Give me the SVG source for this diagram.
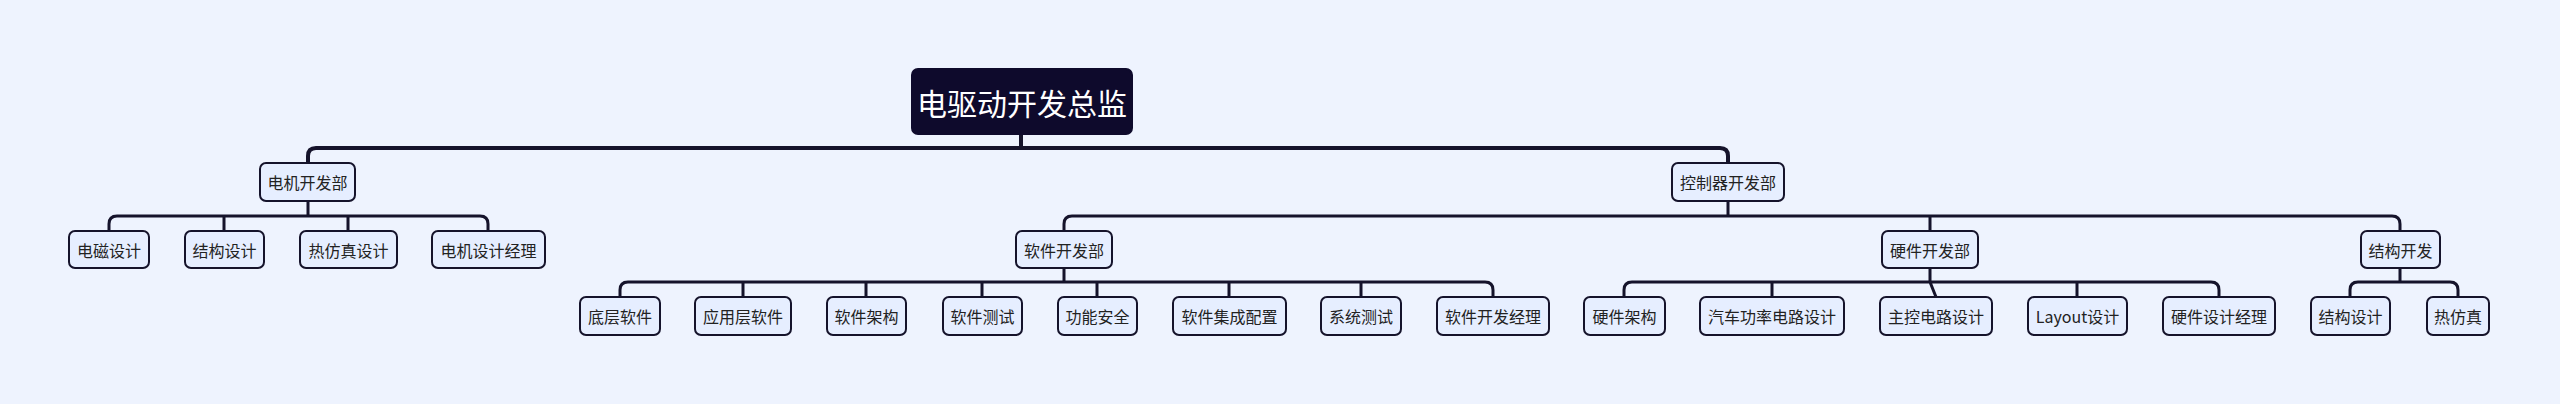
<svg xmlns="http://www.w3.org/2000/svg" width="2560" height="404" viewBox="0 0 2560 404">
<style>
.bg{fill:#eef3fe}
.n rect{fill:#e6eeff;stroke:#15132b;stroke-width:2}
.n text{font-family:"Noto Sans CJK SC","Noto Sans",sans-serif;font-size:16px;fill:#222;text-anchor:middle;dominant-baseline:central}
.root rect{fill:#0e0a2c;stroke:#0e0a2c}
.root text{fill:#fff;font-size:30px}
.c path{fill:none;stroke:#15132b;stroke-width:3}
.c .m{stroke-width:4}
</style>
<rect class="bg" width="2560" height="404"/>
<g class="c">
<path class="m" d="M1021,134V148M308,163V156Q308,148 316,148H1720Q1728,148 1728,156V163"/>
<path d="M308,201V216M109,231V224Q109,216 117,216H480Q488,216 488,224V231M224,216V231M348,216V231"/>
<path d="M1728,201V216M1064,231V224Q1064,216 1072,216H2392Q2400,216 2400,224V231M1930,216V231"/>
<path d="M1064,268V282M620,297V290Q620,282 628,282H1485Q1493,282 1493,290V297M743,282V297M866,282V297M982,282V297M1097,282V297M1229,282V297M1361,282V297"/>
<path d="M1930,268V282M1624,297V290Q1624,282 1632,282H2211Q2219,282 2219,290V297M1772,282V297M1930,282L1936,297M2077,282V297"/>
<path d="M2400,268V282M2350,297V290Q2350,282 2358,282H2450Q2458,282 2458,290V297"/>
</g>
<g id="root" class="n root"><rect x="912" y="69" width="220" height="65" rx="6"/><text x="1022" y="102">电驱动开发总监</text></g>
<g id="motor" class="n"><rect x="260" y="163" width="95" height="38" rx="6"/><text x="307.5" y="182">电机开发部</text></g>
<g id="ctrl" class="n"><rect x="1672" y="163" width="112" height="38" rx="6"/><text x="1728" y="182">控制器开发部</text></g>
<g id="em" class="n"><rect x="69" y="231" width="80" height="37" rx="6"/><text x="109" y="249.5">电磁设计</text></g>
<g id="struct1" class="n"><rect x="185" y="231" width="79" height="37" rx="6"/><text x="224.5" y="249.5">结构设计</text></g>
<g id="thermal1" class="n"><rect x="300" y="231" width="97" height="37" rx="6"/><text x="348.5" y="249.5">热仿真设计</text></g>
<g id="motormgr" class="n"><rect x="432" y="231" width="113" height="37" rx="6"/><text x="488.5" y="249.5">电机设计经理</text></g>
<g id="sw" class="n"><rect x="1016" y="231" width="96" height="37" rx="6"/><text x="1064" y="249.5">软件开发部</text></g>
<g id="hw" class="n"><rect x="1882" y="231" width="96" height="37" rx="6"/><text x="1930" y="249.5">硬件开发部</text></g>
<g id="mech" class="n"><rect x="2361" y="231" width="79" height="37" rx="6"/><text x="2400.5" y="249.5">结构开发</text></g>
<g id="bsw" class="n"><rect x="580" y="297" width="80" height="38" rx="6"/><text x="620" y="316">底层软件</text></g>
<g id="app" class="n"><rect x="695" y="297" width="96" height="38" rx="6"/><text x="743" y="316">应用层软件</text></g>
<g id="swarch" class="n"><rect x="827" y="297" width="79" height="38" rx="6"/><text x="866.5" y="316">软件架构</text></g>
<g id="swtest" class="n"><rect x="943" y="297" width="79" height="38" rx="6"/><text x="982.5" y="316">软件测试</text></g>
<g id="fusa" class="n"><rect x="1058" y="297" width="79" height="38" rx="6"/><text x="1097.5" y="316">功能安全</text></g>
<g id="swint" class="n"><rect x="1173" y="297" width="113" height="38" rx="6"/><text x="1229.5" y="316">软件集成配置</text></g>
<g id="systest" class="n"><rect x="1321" y="297" width="80" height="38" rx="6"/><text x="1361" y="316">系统测试</text></g>
<g id="swmgr" class="n"><rect x="1437" y="297" width="112" height="38" rx="6"/><text x="1493" y="316">软件开发经理</text></g>
<g id="hwarch" class="n"><rect x="1584" y="297" width="81" height="38" rx="6"/><text x="1624.5" y="316">硬件架构</text></g>
<g id="power" class="n"><rect x="1700" y="297" width="144" height="38" rx="6"/><text x="1772" y="316">汽车功率电路设计</text></g>
<g id="mcu" class="n"><rect x="1880" y="297" width="112" height="38" rx="6"/><text x="1936" y="316">主控电路设计</text></g>
<g id="layout" class="n"><rect x="2028" y="297" width="99" height="38" rx="6"/><text x="2077.5" y="316">Layout设计</text></g>
<g id="hwmgr" class="n"><rect x="2163" y="297" width="112" height="38" rx="6"/><text x="2219" y="316">硬件设计经理</text></g>
<g id="struct2" class="n"><rect x="2311" y="297" width="79" height="38" rx="6"/><text x="2350.5" y="316">结构设计</text></g>
<g id="thermal2" class="n"><rect x="2427" y="297" width="62" height="38" rx="6"/><text x="2458" y="316">热仿真</text></g>
</svg>
